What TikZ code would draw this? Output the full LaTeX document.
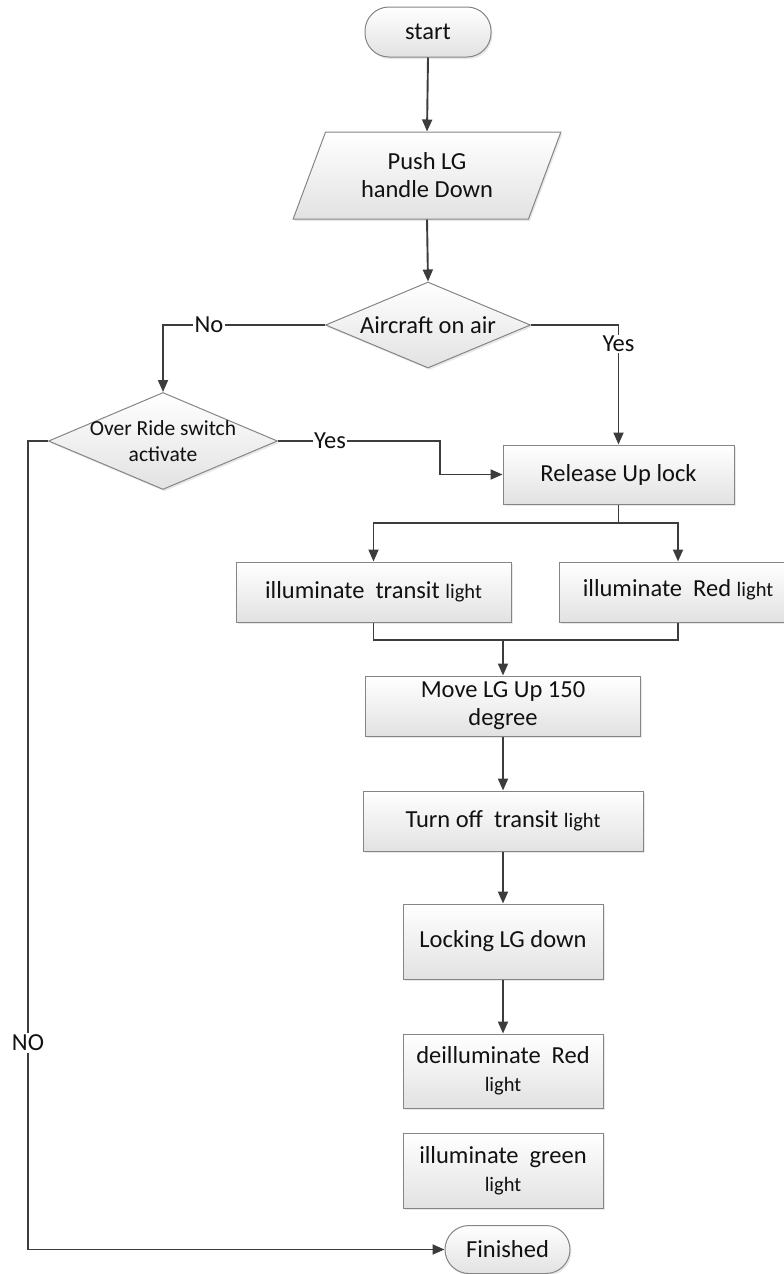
\documentclass[tikz,border=0pt]{standalone}
\usepackage{fontspec}
\setmainfont{Carlito}
\usetikzlibrary{shapes.geometric,shapes.misc,arrows.meta,shadows}
\definecolor{linec}{HTML}{3C3C3C}
\definecolor{boxc}{HTML}{858585}
\definecolor{txtc}{HTML}{111111}
\definecolor{fillbot}{HTML}{E2E2E2}
\newcommand{\smlight}{\fontsize{20.5pt}{23pt}\selectfont}
\begin{document}
\begin{tikzpicture}[x=1pt,y=-1pt,
  base/.style={draw=boxc, line width=1pt, top color=white, bottom color=fillbot,
    text=txtc, font=\fontsize{24.5pt}{28pt}\selectfont, align=center, inner sep=0pt,
    drop shadow={shadow xshift=1.5pt, shadow yshift=-2pt, opacity=0.18}},
  procbox/.style={base, rectangle},
  termbox/.style={base, rectangle, rounded corners=24pt},
  decbox/.style={base, diamond},
  iobox/.style={base, trapezium, trapezium left angle=65, trapezium right angle=115, trapezium stretches=true},
  conn/.style={draw=linec, line width=1.9pt},
  arr/.style={conn, -{Triangle[length=12pt,width=10pt]}},
  lbl/.style={fill=white, text=txtc, font=\fontsize{24.5pt}{28pt}\selectfont, inner sep=1.5pt},
  dectext/.style={text=txtc, align=center, inner sep=0pt}
]
\useasboundingbox (0,0) rectangle (784,1274);

% nodes
\node[termbox, minimum width=126pt, minimum height=50pt] (start) at (428,32) {start};
\node[iobox, minimum width=268pt, minimum height=87pt] (push) at (427,175.5) {Push LG\\handle Down};
\node[decbox, minimum width=205pt, minimum height=86pt,
  label={[dectext, font=\fontsize{24.5pt}{28pt}\selectfont]center:Aircraft on air}] (air) at (428,325) {};
\node[decbox, minimum width=229pt, minimum height=97pt,
  label={[dectext, font=\fontsize{21.5pt}{26pt}\selectfont]center:Over Ride switch\\activate}] (ovr) at (163,441) {};
\node[procbox, minimum width=231pt, minimum height=59pt] (rel) at (618.5,474.5) {Release Up lock};
\node[procbox, minimum width=275pt, minimum height=60pt] (trans) at (373.5,592) {illuminate\hspace{0.45em}transit {\smlight light}};
\node[procbox, minimum width=238pt, minimum height=60pt] (red) at (678,592) {\raisebox{8pt}{illuminate\hspace{0.45em}Red {\smlight light}}};
\node[procbox, minimum width=275pt, minimum height=60pt] (move) at (503,706) {Move LG Up 150\\degree};
\node[procbox, minimum width=280pt, minimum height=60pt] (off) at (503,821) {Turn off\hspace{0.45em}transit {\smlight light}};
\node[procbox, minimum width=200pt, minimum height=75pt] (lock) at (503,941.5) {Locking LG down};
\node[procbox, minimum width=200pt, minimum height=74pt] (deil) at (503,1071) {deilluminate\hspace{0.45em}Red\\{\smlight light}};
\node[procbox, minimum width=200pt, minimum height=75pt] (green) at (503,1170.5) {illuminate\hspace{0.45em}green\\{\smlight light}};
\node[termbox, minimum width=125pt, minimum height=48pt] (fin) at (507.5,1249.5) {Finished};

% junction points
\coordinate (split) at (618.5,523);
\coordinate (merge) at (503,640);
\coordinate (ybend) at (440,441);

% connectors
\draw[arr] (start.south) -- (push.north);
\draw[arr] (push.south) -- (air.north);
\draw[arr] (air.west) -| (ovr.north);
\draw[arr] (air.east) -| (rel.north);
\draw[arr] (ovr.east) -- (ybend) |- (rel.west);
\draw[arr] (ovr.west) -| ++(-20,0) |- (fin.west);
\draw[conn] (rel.south) -- (split);
\draw[arr] (split) -| (trans.north);
\draw[arr] (split) -| (red.north);
\draw[conn] (trans.south) |- (merge);
\draw[conn] (red.south) |- (merge);
\draw[arr] (merge) -- (move.north);
\draw[arr] (move.south) -- (off.north);
\draw[arr] (off.south) -- (lock.north);
\draw[arr] (lock.south) -- (deil.north);

% labels on connectors
\node[lbl] (no1) at (209,325) {No};
\node[lbl] (yes1) at (618.5,344) {Yes};
\node[lbl] (yes2) at (330,441) {Yes};
\node[lbl] (no2) at (28,1043) {NO};
\end{tikzpicture}
\end{document}
